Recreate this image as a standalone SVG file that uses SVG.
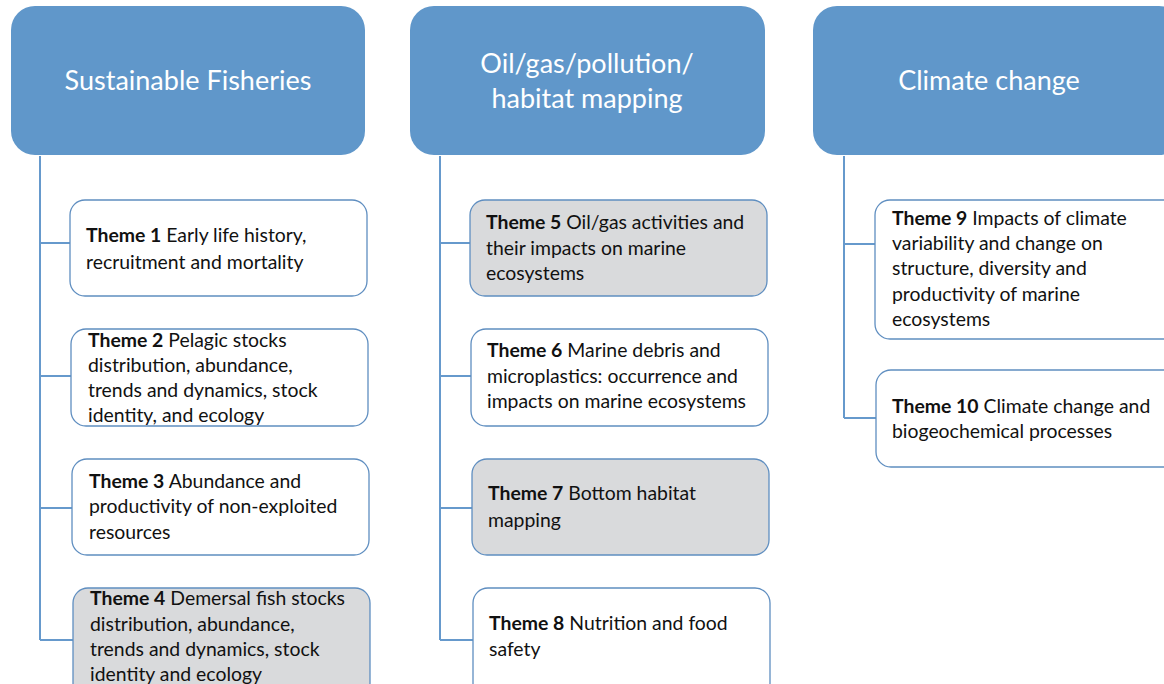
<svg xmlns="http://www.w3.org/2000/svg" width="1164" height="684" viewBox="0 0 1164 684">
<style>
.hdr{fill:#6097CA;}
.ht{font-family:Lato,"Open Sans","Liberation Sans",sans-serif;font-size:27px;fill:#ffffff;text-anchor:middle;}
.box{fill:#ffffff;stroke:#5F8EC0;stroke-width:1.3;}
.gbox{fill:#D9DADC;stroke:#5F8EC0;stroke-width:1.3;}
.t{font-family:Lato,"Open Sans","Liberation Sans",sans-serif;font-size:19.4px;fill:#111111;}
.b{font-weight:bold;}
.con{fill:none;stroke:#6699CC;stroke-width:2;}
</style>
<rect width="1164" height="684" fill="#ffffff"/>
<g id="connectors">
<path class="con" d="M40,156 V640 M40,243 H70 M40,376 H71 M40,508 H72 M40,640 H73"/>
<path class="con" d="M440,156 V640 M440,243 H470 M440,376 H471 M440,508 H472 M440,640 H473"/>
<path class="con" d="M844,156 V418 M844,244 H875 M844,418 H876"/>
</g>
<g id="header1"><rect class="hdr" x="11" y="6" width="354" height="149" rx="24"/><text class="ht" x="188" y="90">Sustainable Fisheries</text></g>
<g id="header2"><rect class="hdr" x="410" y="6" width="355" height="149" rx="24"/><text class="ht" x="587" y="73">Oil/gas/pollution/</text><text class="ht" x="587" y="108">habitat mapping</text></g>
<g id="header3"><rect class="hdr" x="813" y="6" width="370" height="149" rx="24"/><text class="ht" x="989" y="90">Climate change</text></g>

<g id="theme1"><rect class="box" x="70" y="200" width="297" height="96" rx="15"/><text class="t" x="86"><tspan x="86" y="242"><tspan class="b">Theme 1</tspan> Early life history,</tspan><tspan x="86" y="269">recruitment and mortality</tspan></text></g>
<g id="theme2"><rect class="box" x="71" y="329" width="297" height="97" rx="15"/><text class="t"><tspan x="88" y="347"><tspan class="b">Theme 2</tspan> Pelagic stocks</tspan><tspan x="88" y="372">distribution, abundance,</tspan><tspan x="88" y="397">trends and dynamics, stock</tspan><tspan x="88" y="422">identity, and ecology</tspan></text></g>
<g id="theme3"><rect class="box" x="72" y="459" width="297" height="96" rx="15"/><text class="t"><tspan x="89" y="488"><tspan class="b">Theme 3</tspan> Abundance and</tspan><tspan x="89" y="513">productivity of non-exploited</tspan><tspan x="89" y="539">resources</tspan></text></g>
<g id="theme4"><rect class="gbox" x="73" y="588" width="297" height="110" rx="15"/><text class="t"><tspan x="90" y="605"><tspan class="b">Theme 4</tspan> Demersal fish stocks</tspan><tspan x="90" y="631">distribution, abundance,</tspan><tspan x="90" y="656">trends and dynamics, stock</tspan><tspan x="90" y="681">identity and ecology</tspan></text></g>

<g id="theme5"><rect class="gbox" x="470" y="200" width="297" height="96" rx="15"/><text class="t"><tspan x="486" y="229"><tspan class="b">Theme 5</tspan> Oil/gas activities and</tspan><tspan x="486" y="255">their impacts on marine</tspan><tspan x="486" y="280">ecosystems</tspan></text></g>
<g id="theme6"><rect class="box" x="471" y="329" width="297" height="97" rx="15"/><text class="t"><tspan x="487" y="357"><tspan class="b">Theme 6</tspan> Marine debris and</tspan><tspan x="487" y="383">microplastics: occurrence and</tspan><tspan x="487" y="408">impacts on marine ecosystems</tspan></text></g>
<g id="theme7"><rect class="gbox" x="472" y="459" width="297" height="96" rx="15"/><text class="t"><tspan x="488" y="500"><tspan class="b">Theme 7</tspan> Bottom habitat</tspan><tspan x="488" y="527">mapping</tspan></text></g>
<g id="theme8"><rect class="box" x="473" y="588" width="297" height="110" rx="15"/><text class="t"><tspan x="489" y="630"><tspan class="b">Theme 8</tspan> Nutrition and food</tspan><tspan x="489" y="656">safety</tspan></text></g>

<g id="theme9"><rect class="box" x="875" y="200" width="310" height="139" rx="15"/><text class="t"><tspan x="892" y="225"><tspan class="b">Theme 9</tspan> Impacts of climate</tspan><tspan x="892" y="250">variability and change on</tspan><tspan x="892" y="275">structure, diversity and</tspan><tspan x="892" y="301">productivity of marine</tspan><tspan x="892" y="326">ecosystems</tspan></text></g>
<g id="theme10"><rect class="box" x="876" y="370" width="310" height="97" rx="15"/><text class="t"><tspan x="892" y="413"><tspan class="b">Theme 10</tspan> Climate change and</tspan><tspan x="892" y="438">biogeochemical processes</tspan></text></g>
</svg>
